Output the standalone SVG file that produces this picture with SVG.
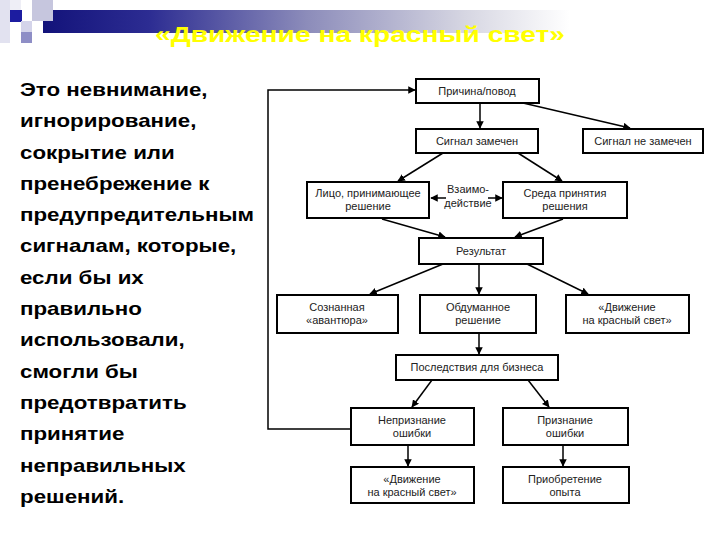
<svg xmlns="http://www.w3.org/2000/svg" width="720" height="540" viewBox="0 0 720 540">
<style>
.box{fill:#fff;stroke:#000;stroke-width:2}
.bt{font-family:"Liberation Sans",Arial,sans-serif;font-size:11px;fill:#222;text-anchor:middle}
.con{stroke:#000;stroke-width:1.5;fill:none}
.arr{marker-end:url(#ah)}
.lt{font-family:"Liberation Sans",Arial,sans-serif;font-size:18px;font-weight:bold;fill:#000}
</style>
<defs>
<marker id="ah" viewBox="0 0 10 10" refX="9" refY="5" markerWidth="5" markerHeight="5" orient="auto" markerUnits="strokeWidth">
<path d="M0,0 L10,5 L0,10 z" fill="#000"/>
</marker>
<linearGradient id="bar" gradientUnits="userSpaceOnUse" x1="43" y1="0" x2="570" y2="0">
<stop offset="0" stop-color="#13137a"/>
<stop offset="0.2" stop-color="#2c2c92"/>
<stop offset="0.5" stop-color="#8c8cba"/>
<stop offset="0.8" stop-color="#d6d6e2"/>
<stop offset="1" stop-color="#ffffff"/>
</linearGradient>
</defs>
<rect width="720" height="540" fill="#fff"/>
<g id="header">
<rect x="43" y="10" width="530" height="23" fill="url(#bar)"/>
<rect x="0" y="0" width="10" height="43" fill="#e2e2f0"/>
<rect x="10" y="0" width="11" height="10" fill="#eeeef6"/>
<rect x="10" y="10" width="12" height="12" fill="#1c1ca0"/>
<rect x="21" y="21" width="11" height="11" fill="#d4d4ea"/>
<rect x="32" y="0" width="21" height="21" fill="#c6c6de"/>
<rect x="21" y="32" width="11" height="11" fill="#8e8ec6"/>
<text x="155" y="42" textLength="410" lengthAdjust="spacingAndGlyphs" font-family="'Liberation Sans',Arial,sans-serif" font-size="22" font-weight="bold" fill="#ffff00">«Движение на красный свет»</text>
</g>
<g id="description" transform="translate(20,0) scale(1.24,1)">
<text class="lt" x="0" y="96">Это невнимание,</text>
<text class="lt" x="0" y="127.3">игнорирование,</text>
<text class="lt" x="0" y="158.6">сокрытие или</text>
<text class="lt" x="0" y="189.9">пренебрежение к</text>
<text class="lt" x="0" y="221.2">предупредительным</text>
<text class="lt" x="0" y="252.5">сигналам, которые,</text>
<text class="lt" x="0" y="283.8">если бы их</text>
<text class="lt" x="0" y="315.1">правильно</text>
<text class="lt" x="0" y="346.4">использовали,</text>
<text class="lt" x="0" y="377.7">смогли бы</text>
<text class="lt" x="0" y="409">предотвратить</text>
<text class="lt" x="0" y="440.3">принятие</text>
<text class="lt" x="0" y="471.6">неправильных</text>
<text class="lt" x="0" y="502.9">решений.</text>
</g>
<g id="connectors">
<path class="con arr" d="M351,429 H268 V90 H415"/>
<path class="con arr" d="M480,103 V128"/>
<path class="con arr" d="M523,103 L630,128"/>
<path class="con arr" d="M443,153 L398,181"/>
<path class="con arr" d="M518,153 L562,181"/>
<path class="con arr" d="M446,198 H431"/>
<path class="con arr" d="M488,198 H502"/>
<path class="con arr" d="M382,219 L445,237"/>
<path class="con arr" d="M563,219 L515,237"/>
<path class="con arr" d="M443,264 L370,294"/>
<path class="con arr" d="M479,264 V294"/>
<path class="con arr" d="M527,264 L588,294"/>
<path class="con arr" d="M479,333 V354"/>
<path class="con arr" d="M432,380 L412,407"/>
<path class="con arr" d="M528,380 L549,407"/>
<path class="con arr" d="M408,445 V466"/>
<path class="con arr" d="M563,445 V466"/>
</g>
<g id="n-prichina"><rect class="box" x="416" y="79" width="123" height="24"/><text class="bt" x="477" y="95">Причина/повод</text></g>
<g id="n-zamechen"><rect class="box" x="416" y="129" width="122" height="24"/><text class="bt" x="477" y="145">Сигнал замечен</text></g>
<g id="n-ne-zamechen"><rect class="box" x="583" y="129" width="120" height="24"/><text class="bt" x="643" y="145">Сигнал не замечен</text></g>
<g id="n-lico"><rect class="box" x="307" y="182" width="122" height="36"/><text class="bt" x="368" y="197">Лицо, принимающее</text><text class="bt" x="368" y="210">решение</text></g>
<g id="n-vzaimo"><text class="bt" x="468" y="193">Взаимо-</text><text class="bt" x="468" y="207">действие</text></g>
<g id="n-sreda"><rect class="box" x="503" y="182" width="124" height="36"/><text class="bt" x="565" y="197">Среда принятия</text><text class="bt" x="565" y="210">решения</text></g>
<g id="n-rezultat"><rect class="box" x="419" y="238" width="124" height="26"/><text class="bt" x="481" y="255">Результат</text></g>
<g id="n-soznannaya"><rect class="box" x="277" y="295" width="121" height="38"/><text class="bt" x="337" y="311">Сознанная</text><text class="bt" x="337" y="324">«авантюра»</text></g>
<g id="n-obdumannoe"><rect class="box" x="420" y="295" width="116" height="38"/><text class="bt" x="478" y="311">Обдуманное</text><text class="bt" x="478" y="324">решение</text></g>
<g id="n-dvizhenie1"><rect class="box" x="566" y="295" width="123" height="38"/><text class="bt" x="627" y="311">«Движение</text><text class="bt" x="627" y="324">на красный свет»</text></g>
<g id="n-posledstviya"><rect class="box" x="396" y="355" width="162" height="25"/><text class="bt" x="477" y="371">Последствия для бизнеса</text></g>
<g id="n-nepriznanie"><rect class="box" x="351" y="408" width="123" height="37"/><text class="bt" x="412" y="424">Непризнание</text><text class="bt" x="412" y="437">ошибки</text></g>
<g id="n-priznanie"><rect class="box" x="503" y="408" width="125" height="37"/><text class="bt" x="565" y="424">Признание</text><text class="bt" x="565" y="437">ошибки</text></g>
<g id="n-dvizhenie2"><rect class="box" x="351" y="467" width="123" height="36"/><text class="bt" x="412" y="483">«Движение</text><text class="bt" x="412" y="496">на красный свет»</text></g>
<g id="n-opyt"><rect class="box" x="503" y="467" width="126" height="36"/><text class="bt" x="565" y="483">Приобретение</text><text class="bt" x="565" y="496">опыта</text></g>
</svg>
